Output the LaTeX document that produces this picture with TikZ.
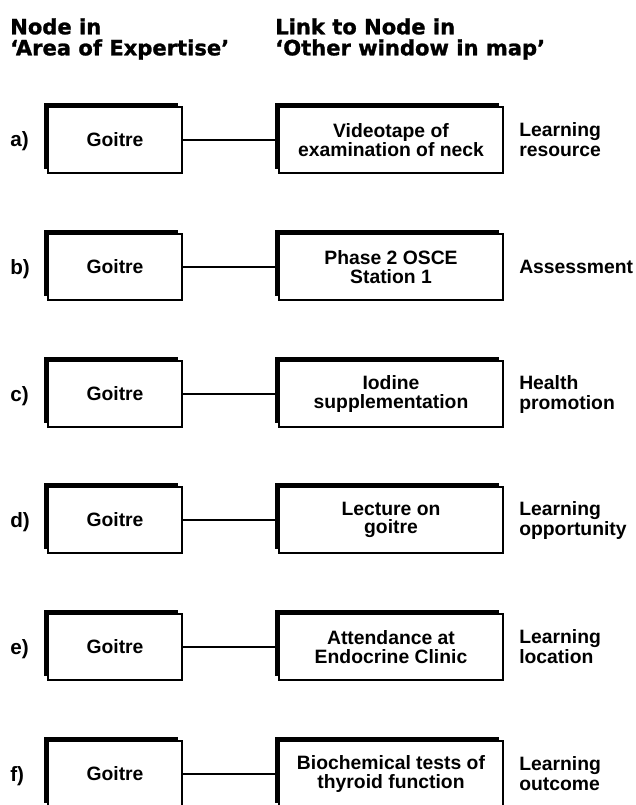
\documentclass[tikz,border=0pt]{standalone}
\usepackage{fontspec}
\setmainfont{Liberation Sans}
\newfontfamily\headfont[FakeBold=1.2]{DejaVu Sans Bold}
\usetikzlibrary{shadows}

\tikzset{
  goitre/.style={draw, line width=0.9pt, fill=white, minimum width=100.5pt, minimum height=49.5pt,
    inner sep=0pt, align=center, font=\fontsize{14.5}{14}\selectfont\bfseries,
    general shadow={fill=black, shadow xshift=-3pt, shadow yshift=3pt}},
  target/.style={goitre, minimum width=168pt},
  tag/.style={anchor=base west, inner sep=0pt, font=\fontsize{15.5}{16}\selectfont\bfseries},
  kind/.style={anchor=west, inner sep=0pt, align=left, font=\fontsize{14.5}{15}\selectfont\bfseries},
  head/.style={anchor=north west, inner sep=0pt, align=left, font=\headfont\fontsize{15.8}{15.8}\selectfont},
  link/.style={line width=0.9pt},
}

\begin{document}
\begin{tikzpicture}[x=0.75pt, y=-0.75pt]
  \useasboundingbox (0,0) rectangle (635,805);
  % column heads
  \node[head] (h-left) at (10,18) {Node in\\‘Area of Expertise’};
  \node[head] (h-right) at (275,18) {Link to Node in\\‘Other window in map’};
  % a)
  \node[tag] (l-a) at (10,147) {a)};
  \node[goitre] (g-a) at (115,140) {Goitre};
  \node[target] (t-a) at (391,140) {Videotape of\\examination of neck};
  \node[kind] (k-a) at (519,140) {Learning\\resource};
  \draw[link] (g-a) -- (t-a);
  % b)
  \node[tag] (l-b) at (10,274) {b)};
  \node[goitre] (g-b) at (115,267) {Goitre};
  \node[target] (t-b) at (391,267) {Phase 2 OSCE\\Station 1};
  \node[kind] (k-b) at (519,267) {Assessment};
  \draw[link] (g-b) -- (t-b);
  % c)
  \node[tag] (l-c) at (10,401) {c)};
  \node[goitre] (g-c) at (115,394) {Goitre};
  \node[target] (t-c) at (391,394) {Iodine\\supplementation};
  \node[kind] (k-c) at (519,394) {Health\\promotion};
  \draw[link] (g-c) -- (t-c);
  % d)
  \node[tag] (l-d) at (10,527) {d)};
  \node[goitre] (g-d) at (115,520) {Goitre};
  \node[target] (t-d) at (391,520) {Lecture on\\goitre};
  \node[kind] (k-d) at (519,520) {Learning\\opportunity};
  \draw[link] (g-d) -- (t-d);
  % e)
  \node[tag] (l-e) at (10,654) {e)};
  \node[goitre] (g-e) at (115,647) {Goitre};
  \node[target] (t-e) at (391,647) {Attendance at\\Endocrine Clinic};
  \node[kind] (k-e) at (519,647) {Learning\\location};
  \draw[link] (g-e) -- (t-e);
  % f)
  \node[tag] (l-f) at (10,781) {f)};
  \node[goitre] (g-f) at (115,774) {Goitre};
  \node[target] (t-f) at (391,774) {Biochemical tests of\\thyroid function};
  \node[kind] (k-f) at (519,774) {Learning\\outcome};
  \draw[link] (g-f) -- (t-f);
\end{tikzpicture}
\end{document}
